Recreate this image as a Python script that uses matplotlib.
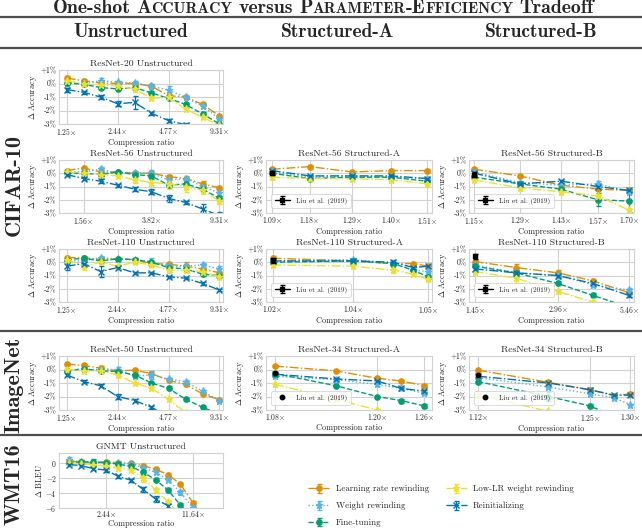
import matplotlib.pyplot as plt
from matplotlib.lines import Line2D
from matplotlib.ticker import NullLocator
import seaborn as sns

sns.set_style('whitegrid')
plt.rcParams['font.family'] = ['cmr10', 'DejaVu Serif']
plt.rcParams['mathtext.fontset'] = 'cm'
plt.rcParams['axes.unicode_minus'] = False

# ---------------- data ----------------
methods = ['lrr', 'wr', 'ft', 'lowlr', 'reinit']
method_labels = ['Learning rate rewinding', 'Weight rewinding', 'Fine-tuning',
                 'Low-LR weight rewinding', 'Reinitializing']

unstr_ratio = [1.25, 1.56, 1.95, 2.44, 3.05, 3.81, 4.77, 5.96, 7.45, 9.31]
gnmt_ratio = [1.25, 1.56, 1.95, 2.44, 3.05, 3.81, 4.77, 5.96, 7.45, 9.31, 11.64]
r56a_ratio = [1.09, 1.18, 1.29, 1.40, 1.51]
r56b_ratio = [1.15, 1.29, 1.43, 1.57, 1.70]
r110a_ratio = [1.021, 1.037, 1.045, 1.049, 1.052]
r110b_ratio = [1.45, 2.07, 2.96, 4.00, 5.46]
r34a_ratio = [1.08, 1.15, 1.20, 1.23, 1.26]
r34b_ratio = [1.12, 1.20, 1.25, 1.28, 1.30]

r20_mean = dict(
    lrr=[0.4, 0.2, 0.05, 0.0, 0.0, -0.2, -0.9, -1.0, -1.55, -2.4],
    wr=[0.0, 0.05, 0.2, 0.1, 0.05, -0.2, -0.5, -1.0, -1.7, -2.6],
    ft=[0.05, -0.05, -0.3, -0.4, -0.3, -0.7, -1.1, -1.55, -2.25, -3.0],
    lowlr=[0.2, 0.0, -0.1, -0.2, -0.4, -1.1, -1.0, -1.9, -2.5, -3.1],
    reinit=[-0.45, -0.65, -1.0, -1.5, -1.4, -2.2, -2.75, -3.05, -3.3, -3.6])
r20_std = dict(
    lrr=[0.15, 0.1, 0.1, 0.1, 0.1, 0.15, 0.1, 0.1, 0.1, 0.1],
    wr=[0.1, 0.1, 0.2, 0.1, 0.15, 0.1, 0.3, 0.1, 0.15, 0.1],
    ft=[0.1, 0.1, 0.1, 0.1, 0.1, 0.15, 0.15, 0.1, 0.15, 0.1],
    lowlr=[0.1, 0.1, 0.1, 0.1, 0.2, 0.15, 0.1, 0.1, 0.15, 0.1],
    reinit=[0.15, 0.1, 0.15, 0.2, 0.5, 0.1, 0.1, 0.1, 0.1, 0.1])

r56_mean = dict(
    lrr=[0.2, 0.4, 0.1, 0.1, 0.0, 0.0, -0.25, -0.4, -0.8, -1.1],
    wr=[0.1, 0.1, 0.3, 0.0, 0.05, 0.0, -0.5, -0.4, -1.0, -1.5],
    ft=[0.0, 0.0, -0.1, 0.1, -0.1, -0.2, -0.9, -0.8, -1.2, -1.9],
    lowlr=[0.1, 0.0, -0.1, -0.2, -0.5, -0.7, -0.8, -1.0, -1.3, -2.1],
    reinit=[-0.1, -0.4, -0.6, -0.9, -1.2, -1.4, -1.9, -2.2, -2.7, -3.2])
r56_std = dict(
    lrr=[0.1, 0.15, 0.1, 0.1, 0.1, 0.1, 0.1, 0.1, 0.2, 0.1],
    wr=[0.1, 0.1, 0.15, 0.1, 0.1, 0.25, 0.4, 0.2, 0.1, 0.2],
    ft=[0.1, 0.1, 0.1, 0.1, 0.1, 0.2, 0.1, 0.2, 0.1, 0.2],
    lowlr=[0.1, 0.1, 0.1, 0.15, 0.2, 0.2, 0.4, 0.4, 0.3, 0.2],
    reinit=[0.1, 0.1, 0.15, 0.1, 0.15, 0.2, 0.25, 0.1, 0.4, 0.3])

r110_mean = dict(
    lrr=[0.35, 0.35, 0.2, 0.25, 0.2, -0.1, -0.15, -0.3, -0.5, -0.8],
    wr=[0.1, 0.1, 0.35, 0.25, 0.2, 0.05, -0.3, -0.3, -0.2, -0.5],
    ft=[0.2, 0.3, 0.1, 0.25, 0.2, 0.0, -0.4, -0.5, -0.9, -1.0],
    lowlr=[0.2, -0.3, 0.0, -0.3, 0.0, -0.2, -0.6, -0.6, -0.7, -1.1],
    reinit=[-0.3, -0.1, -0.7, -0.4, -0.8, -0.8, -1.1, -1.2, -1.6, -2.1])
r110_std = dict(
    lrr=[0.1, 0.1, 0.1, 0.1, 0.1, 0.1, 0.1, 0.3, 0.1, 0.1],
    wr=[0.1, 0.1, 0.15, 0.1, 0.1, 0.3, 0.2, 0.1, 0.15, 0.2],
    ft=[0.1, 0.1, 0.1, 0.1, 0.1, 0.1, 0.3, 0.2, 0.1, 0.1],
    lowlr=[0.1, 0.3, 0.1, 0.2, 0.1, 0.1, 0.1, 0.1, 0.1, 0.1],
    reinit=[0.3, 0.1, 0.4, 0.1, 0.1, 0.1, 0.1, 0.1, 0.1, 0.1])

r50_mean = dict(
    lrr=[0.4, 0.3, 0.1, -0.1, -0.05, -0.3, -0.8, -1.1, -1.8, -2.25],
    wr=[-0.1, 0.0, 0.0, 0.0, -0.5, -0.4, -0.7, -0.9, -1.6, -2.3],
    ft=[-0.1, 0.05, -0.1, -0.15, -0.4, -1.0, -1.4, -2.2, -2.8, -3.3],
    lowlr=[0.0, -0.1, -0.1, -0.4, -1.0, -1.4, -2.2, -3.2, -3.8, -4.2],
    reinit=[-0.4, -0.9, -1.2, -2.0, -2.3, -2.8, -3.5, -4.0, -4.5, -5.0])
r50_std = dict(
    lrr=[0.1, 0.1, 0.15, 0.1, 0.1, 0.1, 0.1, 0.1, 0.1, 0.1],
    wr=[0.1, 0.1, 0.1, 0.15, 0.1, 0.3, 0.1, 0.1, 0.1, 0.1],
    ft=[0.1, 0.1, 0.1, 0.1, 0.1, 0.1, 0.15, 0.1, 0.1, 0.1],
    lowlr=[0.1, 0.1, 0.1, 0.1, 0.1, 0.1, 0.1, 0.1, 0.1, 0.1],
    reinit=[0.1, 0.1, 0.1, 0.15, 0.1, 0.1, 0.1, 0.1, 0.1, 0.1])

r56a_mean = dict(
    lrr=[0.3, 0.5, 0.1, 0.2, 0.2],
    wr=[0.1, -0.3, -0.2, -0.3, -0.4],
    ft=[0.0, -0.4, -0.3, -0.3, -0.6],
    lowlr=[-0.3, -0.4, -0.4, -0.5, -0.8],
    reinit=[0.2, -0.2, -0.2, -0.2, -0.4])
r56a_std = dict(
    lrr=[0.1, 0.15, 0.1, 0.1, 0.1],
    wr=[0.1, 0.1, 0.1, 0.1, 0.1],
    ft=[0.1, 0.1, 0.1, 0.1, 0.1],
    lowlr=[0.1, 0.1, 0.1, 0.1, 0.1],
    reinit=[0.1, 0.1, 0.1, 0.1, 0.1])
r56a_liu = (1.09, 0.0, 0.15)

r56b_mean = dict(
    lrr=[0.3, -0.2, -0.9, -1.2, -1.3],
    wr=[0.1, -0.7, -0.9, -0.8, -1.4],
    ft=[-0.3, -0.8, -1.2, -2.0, -2.1],
    lowlr=[-0.5, -1.1, -1.4, -1.7, -2.8],
    reinit=[0.0, -0.8, -0.6, -1.0, -1.3])
r56b_std = dict(
    lrr=[0.1, 0.1, 0.1, 0.1, 0.1],
    wr=[0.1, 0.15, 0.1, 0.2, 0.2],
    ft=[0.1, 0.1, 0.1, 0.5, 0.8],
    lowlr=[0.1, 0.1, 0.1, 0.1, 0.2],
    reinit=[0.1, 0.1, 0.1, 0.15, 0.1])
r56b_liu = (1.15, -0.1, 0.2)

r110a_mean = dict(
    lrr=[0.3, 0.1, -0.1, -0.1, -0.3],
    wr=[0.1, 0.2, -0.1, -0.6, -0.7],
    ft=[0.0, 0.1, -0.1, -0.6, -1.1],
    lowlr=[-0.2, -0.3, -0.6, -0.9, -1.3],
    reinit=[0.1, 0.1, 0.0, -0.4, -0.3])
r110a_std = dict(
    lrr=[0.2, 0.1, 0.1, 0.1, 0.1],
    wr=[0.15, 0.1, 0.1, 0.1, 0.1],
    ft=[0.1, 0.1, 0.1, 0.1, 0.15],
    lowlr=[0.1, 0.1, 0.2, 0.1, 0.1],
    reinit=[0.1, 0.1, 0.2, 0.1, 0.1])
r110a_liu = (1.021, 0.15, 0.2)

r110b_mean = dict(
    lrr=[0.05, -0.4, -0.8, -1.4, -2.3],
    wr=[-0.2, -0.8, -1.0, -1.7, -2.1],
    ft=[-0.3, -0.8, -1.6, -2.5, -3.4],
    lowlr=[-0.7, -1.2, -2.2, -3.0, -3.8],
    reinit=[-0.5, -0.8, -1.0, -1.6, -2.5])
r110b_std = dict(
    lrr=[0.1, 0.25, 0.25, 0.1, 0.1],
    wr=[0.1, 0.1, 0.2, 0.2, 0.15],
    ft=[0.1, 0.1, 0.15, 0.15, 0.1],
    lowlr=[0.1, 0.4, 0.1, 0.1, 0.1],
    reinit=[0.1, 0.1, 0.1, 0.2, 0.1])
r110b_liu = (1.45, 0.45, 0.2)

r34a_mean = dict(
    lrr=[0.25, -0.1, -0.65, -0.85, -1.2],
    wr=[-0.5, -0.75, -1.1, -1.4, -1.75],
    ft=[-0.3, -1.2, -2.0, -2.3, -2.7],
    lowlr=[-1.1, -2.2, -3.0, -3.6, -4.0],
    reinit=[-0.35, -0.7, -0.85, -1.4, -1.6])
r34a_std = dict(
    lrr=[0.05, 0.1, 0.1, 0.05, 0.1],
    wr=[0.05, 0.1, 0.1, 0.05, 0.1],
    ft=[0.05, 0.05, 0.05, 0.15, 0.15],
    lowlr=[0.05, 0.05, 0.1, 0.1, 0.1],
    reinit=[0.05, 0.1, 0.05, 0.1, 0.05])
r34a_liu = (1.08, -0.25)

r34b_mean = dict(
    lrr=[-0.05, -0.95, -1.5, -1.95, -1.8],
    wr=[-0.6, -1.3, -1.8, -2.1, -2.6],
    ft=[-0.9, -2.0, -2.7, -3.5, -4.0],
    lowlr=[-1.9, -3.1, -3.8, -4.2, -4.5],
    reinit=[-0.5, -1.0, -1.5, -1.9, -1.9])
r34b_std = dict(
    lrr=[0.05, 0.1, 0.1, 0.05, 0.1],
    wr=[0.05, 0.05, 0.1, 0.1, 0.05],
    ft=[0.1, 0.3, 0.15, 0.1, 0.1],
    lowlr=[0.1, 0.1, 0.1, 0.1, 0.1],
    reinit=[0.05, 0.1, 0.1, 0.1, 0.1])
r34b_liu = (1.12, -0.4)

gnmt_mean = dict(
    lrr=[0.3, 0.2, 0.1, 0.2, 0.1, 0.0, -0.3, -0.8, -1.5, -2.8, -5.3],
    wr=[0.4, 0.2, 0.1, 0.1, 0.0, -0.1, -0.6, -1.2, -2.2, -3.9, -6.0],
    ft=[0.1, 0.2, 0.2, 0.1, -0.1, -0.4, -1.2, -2.2, -3.6, -5.6, -7.5],
    lowlr=[0.1, -0.1, -0.2, -0.4, -0.6, -0.9, -1.9, -3.6, -5.2, -7.0, -9.0],
    reinit=[-0.15, -0.3, -0.7, -0.9, -1.75, -2.25, -3.5, -4.8, -5.7, -7.5, -9.5])
gnmt_std = dict(
    lrr=[0.2, 0.2, 0.2, 0.2, 0.2, 0.2, 0.2, 0.2, 0.2, 0.2, 0.3],
    wr=[0.4, 0.2, 0.2, 0.2, 0.2, 0.2, 0.3, 0.2, 0.2, 0.3, 0.3],
    ft=[0.2, 0.2, 0.4, 0.2, 0.2, 0.3, 0.3, 0.2, 0.3, 0.3, 0.3],
    lowlr=[0.2, 0.2, 0.2, 0.3, 0.3, 0.3, 0.6, 0.3, 0.3, 0.3, 0.3],
    reinit=[0.2, 0.2, 0.2, 0.2, 0.2, 0.2, 0.3, 0.4, 0.3, 0.3, 0.3])

acc_ticks = [1, 0, -1, -2, -3]
acc_ticklabels = ['+1%', '0%', '-1%', '-2%', '-3%']
bleu_ticks = [0, -2, -4, -6]
bleu_ticklabels = ['$0$', '$-2$', '$-4$', '$-6$']

# ---------------- styling ----------------
colors = dict(lrr='#DE8F05', wr='#56B4E9', ft='#029E73', lowlr='#ECE133', reinit='#0173B2')
mstyle = dict(lrr='o', wr='*', ft='o', lowlr='*', reinit='x')
lstyle = dict(lrr='-.', wr=':', ft='--', lowlr='-.', reinit='-.')
BOLD = ['cmb10', 'DejaVu Serif']

W, H = 642, 530
fig = plt.figure(figsize=(W / 100, H / 100), dpi=100)

cols = [(59, 223), (266, 432), (469, 634)]
rows = [(70, 124), (160, 213), (249, 302), (356, 410), (453, 508)]


def add_ax(r, c):
    x0, x1 = cols[c]
    y0, y1 = rows[r]
    return fig.add_axes([x0 / W, 1 - y1 / H, (x1 - x0) / W, (y1 - y0) / H])


def tick_str(v):
    return '%.2f$\\times$' % v


def panel(ax, x, mean, std, title, tick_idx, tick_labels=None, xlim=None,
          yticks=acc_ticks, yticklabels=acc_ticklabels, ylim=(-3, 1),
          ylabel='$\\Delta$ Accuracy'):
    handles = []
    for m in methods:
        h = ax.errorbar(x, mean[m], yerr=std[m], color=colors[m], marker=mstyle[m],
                        ls=lstyle[m], lw=1.0, ms=3.8 if mstyle[m] != '*' else 5.2,
                        mew=1.0, capsize=1.8, elinewidth=0.9, capthick=0.9)
        handles.append(h)
    ax.set_xscale('log')
    ticks = [x[i] for i in tick_idx]
    ax.set_xticks(ticks)
    if tick_labels is None:
        tick_labels = [tick_str(t) for t in ticks]
    ax.set_xticklabels(tick_labels)
    ax.xaxis.set_minor_locator(NullLocator())
    if xlim is not None:
        ax.set_xlim(xlim)
    ax.set_ylim(ylim)
    ax.set_yticks(yticks)
    ax.set_yticklabels(yticklabels)
    ax.tick_params(labelsize=5.5, pad=1.5, length=0)
    ax.grid(True, color='0.82', lw=0.8)
    for s in ax.spines.values():
        s.set_color('0.82')
        s.set_linewidth(0.8)
    ax.set_title(title, fontsize=7, pad=3)
    ax.set_xlabel('Compression ratio', fontsize=6, labelpad=1)
    ax.set_ylabel(ylabel, fontsize=6, labelpad=1)
    return handles


def add_liu(ax, liu, with_err=True):
    if with_err:
        h = ax.errorbar([liu[0]], [liu[1]], yerr=[liu[2]], fmt='-s', color='black',
                        ms=3.2, lw=1.0, capsize=1.8, elinewidth=0.9, zorder=5)
    else:
        h, = ax.plot([liu[0]], [liu[1]], 'o', color='black', ms=3.2, zorder=5)
    leg = ax.legend([h], ['Liu et al. (2019)'], loc='lower left', fontsize=5.2,
                    frameon=True, handlelength=2.2, borderpad=0.45,
                    bbox_to_anchor=(0.01, 0.03))
    leg.get_frame().set_linewidth(0.6)


unstr_xlim = (1.13, 9.75)

ax = add_ax(0, 0)
panel(ax, unstr_ratio, r20_mean, r20_std, 'ResNet-20 Unstructured', [0, 3, 6, 9], xlim=unstr_xlim)

ax = add_ax(1, 0)
panel(ax, unstr_ratio, r56_mean, r56_std, 'ResNet-56 Unstructured', [1, 5, 9],
      tick_labels=['1.56$\\times$', '3.82$\\times$', '9.31$\\times$'], xlim=unstr_xlim)

ax = add_ax(1, 1)
panel(ax, r56a_ratio, r56a_mean, r56a_std, 'ResNet-56 Structured-A', [0, 1, 2, 3, 4], xlim=(1.077, 1.525))
add_liu(ax, r56a_liu)

ax = add_ax(1, 2)
panel(ax, r56b_ratio, r56b_mean, r56b_std, 'ResNet-56 Structured-B', [0, 1, 2, 3, 4], xlim=(1.135, 1.72))
add_liu(ax, r56b_liu)

ax = add_ax(2, 0)
panel(ax, unstr_ratio, r110_mean, r110_std, 'ResNet-110 Unstructured', [0, 3, 6, 9], xlim=unstr_xlim)

ax = add_ax(2, 1)
panel(ax, r110a_ratio, r110a_mean, r110a_std, 'ResNet-110 Structured-A', [0, 1, 4], xlim=(1.0197, 1.0528))
add_liu(ax, r110a_liu)

ax = add_ax(2, 2)
panel(ax, r110b_ratio, r110b_mean, r110b_std, 'ResNet-110 Structured-B', [0, 2, 4], xlim=(1.38, 5.7))
add_liu(ax, r110b_liu)

ax = add_ax(3, 0)
panel(ax, unstr_ratio, r50_mean, r50_std, 'ResNet-50 Unstructured', [0, 3, 6, 9], xlim=unstr_xlim)

ax = add_ax(3, 1)
panel(ax, r34a_ratio, r34a_mean, r34a_std, 'ResNet-34 Structured-A', [0, 2, 4], xlim=(1.07, 1.27))
add_liu(ax, r34a_liu, with_err=False)

ax = add_ax(3, 2)
panel(ax, r34b_ratio, r34b_mean, r34b_std, 'ResNet-34 Structured-B', [0, 2, 4], xlim=(1.11, 1.305))
add_liu(ax, r34b_liu, with_err=False)

ax = add_ax(4, 0)
handles = panel(ax, gnmt_ratio, gnmt_mean, gnmt_std, 'GNMT Unstructured', [3, 10], xlim=(1.05, 20),
                yticks=bleu_ticks, yticklabels=bleu_ticklabels, ylim=(-6, 1.4),
                ylabel='$\\Delta$ BLEU')
ax.tick_params(axis='x', pad=1)
ax.xaxis.labelpad = 0

fig.legend(handles, method_labels, ncol=2, fontsize=6.4, frameon=False,
           loc='upper left', bbox_to_anchor=(300 / W, 1 - 477 / H),
           handlelength=2.4, columnspacing=1.9, labelspacing=0.95, handletextpad=0.7)

# ---------------- header, separators, row labels ----------------
for yy in [17, 48, 331, 435]:
    fig.add_artist(Line2D([0, 1], [1 - yy / H, 1 - yy / H], transform=fig.transFigure,
                          color='0.3', lw=1.6))

for txt, xc in [('Unstructured', 131), ('Structured-A', 337), ('Structured-B', 541)]:
    fig.text(xc / W, 1 - 32 / H, txt, fontsize=14, ha='center', va='center', family=BOLD)

for txt, yc in [('CIFAR-10', 185), ('ImageNet', 385), ('WMT16', 484)]:
    fig.text(14 / W, 1 - yc / H, txt, fontsize=16, rotation=90, ha='center', va='center',
             family=BOLD)

# small-caps title
pieces = [('One-shot', 14.3, 6), ('A', 14.3, 0), ('CCURACY', 11.2, 6), ('versus', 14.3, 6),
          ('P', 14.3, 0), ('ARAMETER', 11.2, 0), ('-E', 14.3, 0), ('FFICIENCY', 11.2, 6),
          ('Tradeoff', 14.3, 0)]
renderer = fig.canvas.get_renderer()
texts = []
for s, size, gap in pieces:
    t = fig.text(0, 1 - 13 / H, s, fontsize=size, va='baseline', ha='left', family=BOLD)
    texts.append((t, gap))
widths = [t.get_window_extent(renderer).width for t, g in texts]
total = sum(widths) + sum(g for t, g in texts[:-1])
xpos = 323 - total / 2
for (t, gap), w in zip(texts, widths):
    t.set_x(xpos / W)
    xpos += w + gap

fig.savefig('out.png', dpi=100)
